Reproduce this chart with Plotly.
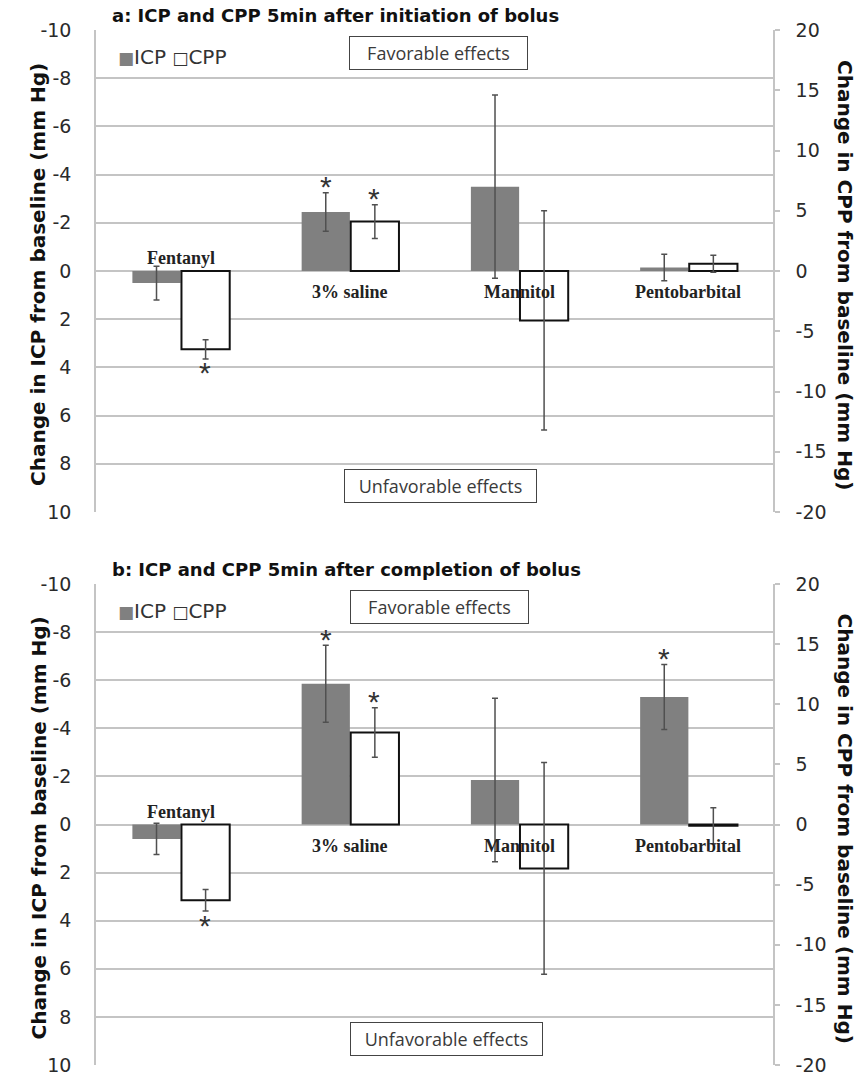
import plotly.graph_objects as go

# ---------------- data ----------------
categories = ["Fentanyl", "3% saline", "Mannitol", "Pentobarbital"]

# Panel a: 5 min after initiation of bolus
icp_a = [0.5, -2.45, -3.5, -0.15]
icp_a_err = [0.7, 0.8, 3.8, 0.55]
cpp_a = [-6.5, 4.1, -4.1, 0.6]
cpp_a_err = [0.8, 1.4, 9.1, 0.7]
sig_icp_a = [False, True, False, False]
sig_cpp_a = [True, True, False, False]

# Panel b: 5 min after completion of bolus
icp_b = [0.6, -5.85, -1.85, -5.3]
icp_b_err = [0.65, 1.6, 3.4, 1.35]
cpp_b = [-6.3, 7.65, -3.65, -0.1]
cpp_b_err = [0.9, 2.05, 8.8, 1.5]
sig_icp_b = [False, True, False, True]
sig_cpp_b = [True, True, False, False]

icp_ticks = [-10, -8, -6, -4, -2, 0, 2, 4, 6, 8, 10]
cpp_ticks = [20, 15, 10, 5, 0, -5, -10, -15, -20]

titles = ["a: ICP and CPP 5min after initiation of bolus",
          "b: ICP and CPP 5min after completion of bolus"]
left_title = "Change in ICP from baseline (mm Hg)"
right_title = "Change in CPP from baseline (mm Hg)"

# ---------------- styling ----------------
W, H = 863, 1077
GRAY_BAR = "#808080"
GRID = "#c4c4c4"
ERR = "#505050"
SANS = "DejaVu Sans, Liberation Sans, Arial"
TICKFONT = dict(family=SANS, size=19, color="#2a2a2a")
BOXFONT = dict(family="Open Sans, Lato", size=18, color="#3a3a3a")

x_dom = [96 / W, 773 / W]
panels = [
    dict(top=30, bottom=512, icp=icp_a, icpe=icp_a_err, cpp=cpp_a, cppe=cpp_a_err,
         sicp=sig_icp_a, scpp=sig_cpp_a, xa="x", ya="y", ya2="y2"),
    dict(top=584, bottom=1065, icp=icp_b, icpe=icp_b_err, cpp=cpp_b, cppe=cpp_b_err,
         sicp=sig_icp_b, scpp=sig_cpp_b, xa="x2", ya="y3", ya2="y4"),
]

fig = go.Figure()
annotations = []
BW = 0.285


def px(xp):
    return xp / W


def py(yp):
    return 1 - yp / H


for i, p in enumerate(panels):
    fig.add_trace(go.Bar(
        x=categories, y=p["icp"], xaxis=p["xa"], yaxis=p["ya"],
        width=BW, offset=-BW, marker=dict(color=GRAY_BAR, line=dict(width=0)),
        error_y=dict(type="data", array=p["icpe"], visible=True, color=ERR, thickness=1.5, width=3),
        showlegend=False, name="ICP"))
    fig.add_trace(go.Bar(
        x=categories, y=p["cpp"], xaxis=p["xa"], yaxis=p["ya2"],
        width=BW, offset=0.005, marker=dict(color="white", line=dict(color="#111111", width=2)),
        error_y=dict(type="data", array=p["cppe"], visible=True, color=ERR, thickness=1.5, width=3),
        showlegend=False, name="CPP"))

    # category labels
    for c, v in zip(categories, p["icp"]):
        above = v > 0
        annotations.append(dict(
            x=c, y=0, xref=p["xa"], yref=p["ya"], text=f"<b>{c}</b>", showarrow=False,
            xanchor="center", yanchor="middle", yshift=(13 if above else -21),
            font=dict(family="Liberation Serif, Times New Roman", size=18, color="#222222")))

    # significance asterisks
    for c, v, e, s in zip(categories, p["icp"], p["icpe"], p["sicp"]):
        if s:
            end = v - e if v < 0 else v + e
            annotations.append(dict(
                x=c, y=end, xref=p["xa"], yref=p["ya"], text="*", showarrow=False,
                xanchor="center", xshift=-24, yanchor="middle", yshift=(6 if v < 0 else -14),
                font=dict(family="Liberation Sans, Arial", size=30, color="#333333")))
    for c, v, e, s in zip(categories, p["cpp"], p["cppe"], p["scpp"]):
        if s:
            end = v + e if v > 0 else v - e
            annotations.append(dict(
                x=c, y=end, xref=p["xa"], yref=p["ya2"], text="*", showarrow=False,
                xanchor="center", xshift=24, yanchor="middle", yshift=(6 if v > 0 else -14),
                font=dict(family="Liberation Sans, Arial", size=30, color="#333333")))

    top, bot = p["top"], p["bottom"]
    mid = (top + bot) / 2
    # panel title
    annotations.append(dict(
        x=px(110), y=py(top - 15), xref="paper", yref="paper", xanchor="left", yanchor="middle",
        text=f"<b>{titles[i]}</b>", showarrow=False,
        font=dict(family=SANS, size=18, color="#111111")))
    # legend-like label
    annotations.append(dict(
        x=px(116), y=py(top + 27), xref="paper", yref="paper", xanchor="left", yanchor="middle",
        text=f'<span style="font-size:17px;color:{GRAY_BAR}">■</span>ICP '
             f'<span style="font-size:17px">□</span>CPP',
        showarrow=False, font=dict(family=SANS, size=20, color="#333333")))
    # favorable / unfavorable boxes
    annotations.append(dict(
        x=px(438 + i), y=py(top + 22.5), xref="paper", yref="paper", text="Favorable effects",
        xanchor="center", yanchor="middle",
        showarrow=False, width=171, height=26, borderpad=3, bordercolor="#444444", borderwidth=1,
        bgcolor="white", font=BOXFONT))
    annotations.append(dict(
        x=px(440 + 6 * i), y=py(bot - 26), xref="paper", yref="paper", text="Unfavorable effects",
        xanchor="center", yanchor="middle",
        showarrow=False, width=185, height=26, borderpad=3, bordercolor="#444444", borderwidth=1,
        bgcolor="white", font=BOXFONT))
    # axis titles
    annotations.append(dict(
        x=px(38), y=py(mid + 4), xref="paper", yref="paper", text=f"<b>{left_title}</b>",
        xanchor="center", yanchor="middle", showarrow=False, textangle=-90,
        font=dict(family=SANS, size=20, color="#111111")))
    annotations.append(dict(
        x=px(845), y=py(mid + 4), xref="paper", yref="paper", text=f"<b>{right_title}</b>",
        xanchor="center", yanchor="middle", showarrow=False, textangle=90,
        font=dict(family=SANS, size=20, color="#111111")))

common_x = dict(domain=x_dom, type="category", range=[-0.5, 3.5], showticklabels=False,
                showgrid=False, showline=False, zeroline=False, ticks="", automargin=False)
common_icp = dict(range=[10, -10], tickvals=icp_ticks, ticktext=[str(t) for t in icp_ticks],
                  showgrid=True, gridcolor=GRID, gridwidth=1.5, zeroline=False,
                  showline=True, linecolor=GRID, linewidth=1.5, ticks="",
                  ticklabelstandoff=19, tickfont=TICKFONT, automargin=False)
common_cpp = dict(range=[-20, 20], tickvals=cpp_ticks, ticktext=[str(t) for t in cpp_ticks],
                  side="right", showgrid=False, zeroline=False, showline=True,
                  linecolor=GRID, linewidth=1.5, ticks="outside", ticklen=5, tickwidth=1.5,
                  tickcolor=GRID, ticklabelstandoff=12, tickfont=TICKFONT, automargin=False)

fig.update_layout(
    width=W, height=H, margin=dict(l=0, r=0, t=0, b=0, autoexpand=False),
    paper_bgcolor="white", plot_bgcolor="white", showlegend=False,
    xaxis=dict(anchor="y", **common_x),
    yaxis=dict(anchor="x", domain=[py(512), py(30)], **common_icp),
    yaxis2=dict(anchor="x", overlaying="y", **common_cpp),
    xaxis2=dict(anchor="y3", **common_x),
    yaxis3=dict(anchor="x2", domain=[py(1065), py(584)], **common_icp),
    yaxis4=dict(anchor="x2", overlaying="y3", **common_cpp),
    annotations=annotations,
)

fig.write_html("out.html")
